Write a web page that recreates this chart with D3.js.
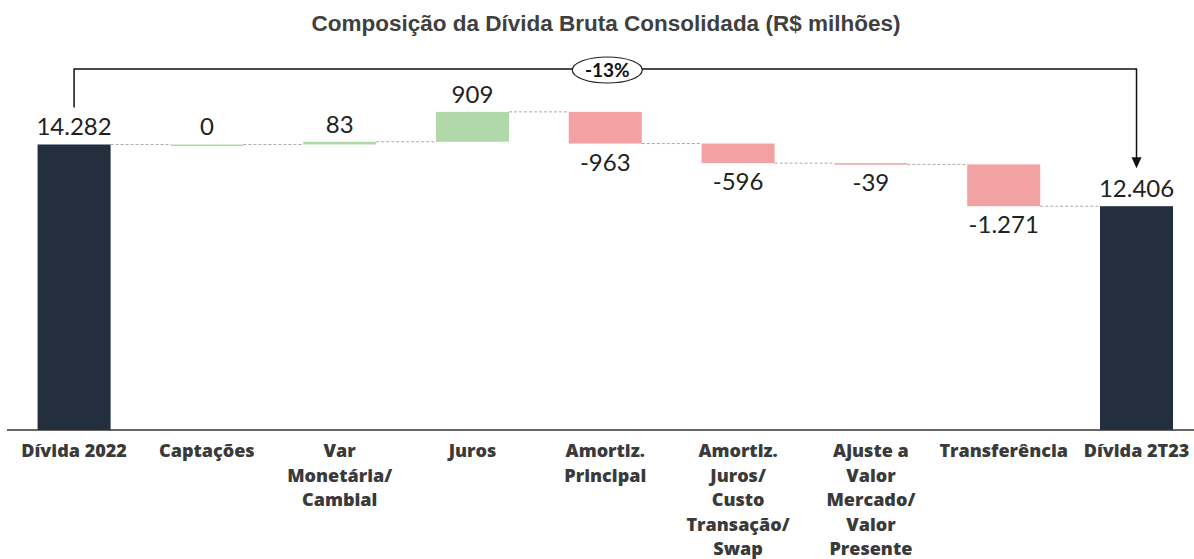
<!DOCTYPE html>
<meta charset="utf-8">
<style>

body {
  margin: 0;
  background: #fff;
}

.title {
  font-family: Arial, "Liberation Sans", sans-serif;
  font-weight: bold;
  font-size: 22.5px;
  fill: #404040;
}

.value {
  font-family: Lato, "Open Sans", sans-serif;
  font-size: 24px;
  fill: #222;
}

.cat {
  font-family: "Open Sans", Lato, sans-serif;
  font-weight: 800;
  font-size: 18px;
  fill: #3a3a3a;
}

.link {
  stroke: #aaa;
  stroke-width: 1px;
  stroke-dasharray: 3,2;
}

</style>
<svg width="1194" height="559"></svg>
<script src="https://d3js.org/d3.v7.min.js"></script>
<script>

var categories = ["Dívida 2022", "Captações", "Var|Monetária/|Cambial", "Juros", "Amortiz.|Principal",
                  "Amortiz.|Juros/|Custo|Transação/|Swap", "Ajuste a|Valor|Mercado/|Valor|Presente",
                  "Transferência", "Dívida 2T23"];
var values = [14282, 0, 83, 909, -963, -596, -39, -1271, 12406];
var kinds = ["total", "delta", "delta", "delta", "delta", "delta", "delta", "delta", "total"];
var labels = ["14.282", "0", "83", "909", "-963", "-596", "-39", "-1.271", "12.406"];
var changeLabel = "-13%";

var svg = d3.select("svg"),
    width = +svg.attr("width"),
    height = +svg.attr("height");

var baseY = 430;

var x = d3.scaleBand()
    .domain(categories)
    .range([11, 1199.6])
    .paddingInner(0.45)
    .paddingOuter(0.2);

var y = d3.scaleLinear()
    .domain([5600, 16000])
    .range([baseY, 88]);

var colors = { total: "#232f3e", up: "#b1d8a9", down: "#f2a2a2" };

// running totals for the waterfall
var running = 0;
var bars = categories.map(function(c, i) {
  var d = { cat: c, value: values[i], label: labels[i], kind: kinds[i] };
  if (d.kind === "total") {
    d.start = y.domain()[0];
    d.end = d.value;
    running = d.value;
  } else {
    d.start = running;
    d.end = running + d.value;
    running = d.end;
  }
  return d;
});

svg.append("text")
    .attr("class", "title")
    .attr("x", 606)
    .attr("y", 31)
    .attr("text-anchor", "middle")
    .text("Composição da Dívida Bruta Consolidada (R$ milhões)");

// dashed connectors between bars
svg.selectAll(".link")
  .data(bars.slice(0, -1))
  .enter().append("line")
    .attr("class", "link")
    .attr("x1", function(d) { return x(d.cat) + x.bandwidth(); })
    .attr("x2", function(d, i) { return x(bars[i + 1].cat); })
    .attr("y1", function(d) { return y(d.end); })
    .attr("y2", function(d) { return y(d.end); });

svg.selectAll(".bar")
  .data(bars)
  .enter().append("rect")
    .attr("class", "bar")
    .attr("x", function(d) { return x(d.cat); })
    .attr("width", x.bandwidth())
    .attr("y", function(d) { return d.kind === "total" ? y(d.end) : y(Math.max(d.start, d.end)); })
    .attr("height", function(d) {
      if (d.kind === "total") return baseY - y(d.end);
      return Math.max(1.5, Math.abs(y(d.start) - y(d.end)));
    })
    .attr("fill", function(d) {
      if (d.kind === "total") return colors.total;
      return d.value < 0 ? colors.down : colors.up;
    });

svg.selectAll(".value")
  .data(bars)
  .enter().append("text")
    .attr("class", "value")
    .attr("text-anchor", "middle")
    .attr("x", function(d) { return x(d.cat) + x.bandwidth() / 2; })
    .attr("y", function(d) {
      if (d.value < 0) return y(Math.min(d.start, d.end)) + 27;
      return y(Math.max(d.start, d.end)) - 9;
    })
    .text(function(d) { return d.label; });

svg.append("line")
    .attr("x1", 7)
    .attr("x2", 1194)
    .attr("y1", baseY)
    .attr("y2", baseY)
    .attr("stroke", "#333")
    .attr("stroke-width", 1.5);

var cat = svg.selectAll(".cat")
  .data(bars)
  .enter().append("text")
    .attr("class", "cat")
    .attr("text-anchor", "middle")
    .attr("x", function(d) { return x(d.cat) + x.bandwidth() / 2; })
    .attr("y", 457);

cat.selectAll("tspan")
  .data(function(d) { return d.cat.split("|").map(function(t) { return { t: t, x: x(d.cat) + x.bandwidth() / 2 }; }); })
  .enter().append("tspan")
    .attr("x", function(d) { return d.x; })
    .attr("dy", function(d, i) { return i ? 24.5 : 0; })
    .text(function(d) { return d.t; });

// change bracket from first total to last total
var first = bars[0], last = bars[bars.length - 1];
var x0 = x(first.cat) + x.bandwidth() / 2,
    x1 = x(last.cat) + x.bandwidth() / 2,
    topY = 69;

svg.append("path")
    .attr("d", "M" + x0 + "," + (y(first.end) - 37) + "V" + topY + "H" + x1 + "V" + (y(last.end) - 48))
    .attr("fill", "none")
    .attr("stroke", "#111")
    .attr("stroke-width", 1.5);

svg.append("path")
    .attr("d", "M" + (x1 - 5) + "," + (y(last.end) - 49) + "L" + (x1 + 5) + "," + (y(last.end) - 49) +
               "L" + x1 + "," + (y(last.end) - 38) + "Z")
    .attr("fill", "#111");

var cx = (x0 + x1) / 2 + 2;
svg.append("ellipse")
    .attr("cx", cx)
    .attr("cy", topY + 1)
    .attr("rx", 35)
    .attr("ry", 13)
    .attr("fill", "#fff")
    .attr("stroke", "#222")
    .attr("stroke-width", 1.2);

svg.append("text")
    .attr("x", cx)
    .attr("y", topY + 8)
    .attr("text-anchor", "middle")
    .style("font-family", "Lato, sans-serif")
    .style("font-weight", "bold")
    .style("font-size", "19px")
    .style("fill", "#111")
    .text(changeLabel);

</script>
